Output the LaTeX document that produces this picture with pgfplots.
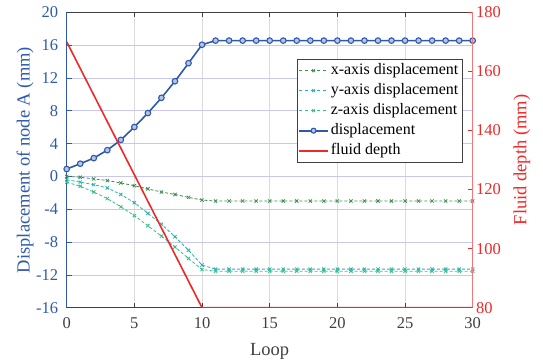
\documentclass[border=0pt]{standalone}
\usepackage{pgfplots}
\pgfplotsset{compat=1.18}
\usepackage{pgfplotstable}
\usepackage{fontspec}
\setmainfont{Liberation Serif}

\definecolor{dispblue}{HTML}{2E59AD}
\definecolor{depthred}{HTML}{F02828}
\definecolor{spinered}{HTML}{F07878}
\definecolor{xgreen}{HTML}{3D8F50}
\definecolor{ycyan}{HTML}{2BB0B3}
\definecolor{zgreen}{HTML}{36C08A}
\definecolor{hgrid}{HTML}{C8C8EC}
\definecolor{vgrid}{HTML}{DCDCDC}
\definecolor{darkgraytext}{HTML}{404040}

% loop, x-, y-, z-displacement and total displacement of node A (mm)
\pgfplotstableread{
loop  dx     dy     dz     d
0     0.00  -0.40  -0.70   0.90
1    -0.10  -0.70  -1.20   1.55
2    -0.30  -1.00  -1.90   2.23
3    -0.50  -1.40  -2.70   3.20
4    -0.80  -2.20  -3.70   4.45
5    -1.13  -3.20  -4.78   6.02
6    -1.52  -4.50  -6.00   7.72
7    -1.90  -5.83  -7.28   9.58
8    -2.20  -7.35  -8.60  11.60
9    -2.55  -9.00 -10.00  13.80
10   -2.88 -10.80 -11.35  16.05
11   -3.00 -11.30 -11.55  16.55
12   -3.00 -11.30 -11.55  16.55
13   -3.00 -11.30 -11.55  16.55
14   -3.00 -11.30 -11.55  16.55
15   -3.00 -11.30 -11.55  16.55
16   -3.00 -11.30 -11.55  16.55
17   -3.00 -11.30 -11.55  16.55
18   -3.00 -11.30 -11.55  16.55
19   -3.00 -11.30 -11.55  16.55
20   -3.00 -11.30 -11.55  16.55
21   -3.00 -11.30 -11.55  16.55
22   -3.00 -11.30 -11.55  16.55
23   -3.00 -11.30 -11.55  16.55
24   -3.00 -11.30 -11.55  16.55
25   -3.00 -11.30 -11.55  16.55
26   -3.00 -11.30 -11.55  16.55
27   -3.00 -11.30 -11.55  16.55
28   -3.00 -11.30 -11.55  16.55
29   -3.00 -11.30 -11.55  16.55
30   -3.00 -11.30 -11.55  16.55
}\disptable

% fluid depth (mm)
\pgfplotstableread{
loop  depth
0     170
10     80
30     80
}\depthtable

\begin{document}
\begin{tikzpicture}
\useasboundingbox (-66.7pt,-54.3pt) rectangle (476.3pt,307.7pt);

\pgfplotsset{
  common/.style={
    scale only axis,
    width=406pt, height=295.4pt,
    at={(0,0)}, anchor=south west,
    xmin=0, xmax=30,
    xtick={0,5,...,30},
    tick align=inside,
    /pgf/number format/assume math mode=true,
    ticklabel style={font=\fontsize{16.5}{18}\selectfont},
    label style={font=\fontsize{18.5}{21}\selectfont},
    major tick length=5pt,
  },
  xdispstyle/.style={xgreen, dashed, line width=0.8pt, mark=x, mark size=2.3pt, mark options={solid}},
  ydispstyle/.style={ycyan, dashed, line width=0.8pt, mark=x, mark size=2.3pt, mark options={solid}},
  zdispstyle/.style={zgreen, dashed, line width=0.8pt, mark=x, mark size=2.3pt, mark options={solid}},
  totdispstyle/.style={dispblue, line width=1.6pt, mark=*, mark size=2.8pt,
    mark options={solid, fill=dispblue!35!white, line width=1.1pt}},
  depthstyle/.style={color=depthred, solid, line width=1.6pt, mark=none},
}

\begin{axis}[
  common,
  separate axis lines,
  x axis line style={darkgraytext, line width=0.8pt},
  y axis line style={dispblue, line width=0.8pt},
  ymin=-16, ymax=20,
  ytick={-16,-12,...,20},
  ytick pos=left,
  xmajorgrids, ymajorgrids,
  x grid style={vgrid, line width=0.7pt},
  y grid style={hgrid, line width=0.7pt},
  xtick style={darkgraytext, line width=0.7pt},
  ytick style={dispblue, line width=0.7pt},
  xticklabel style={text=darkgraytext, yshift=-6pt},
  yticklabel style={text=dispblue, xshift=-5pt},
  xlabel={Loop},
  xlabel style={text=darkgraytext, at={(axis description cs:0.5,0)}, anchor=center, yshift=-44pt},
  ylabel={Displacement of node A (mm)},
  ylabel style={text=dispblue, at={(axis description cs:0,0.5)}, anchor=center, yshift=41.5pt},
]
\addplot[xdispstyle, densely dashed] table[x=loop, y=dx] {\disptable};
\addplot[ydispstyle, densely dashed] table[x=loop, y=dy] {\disptable};
\addplot[zdispstyle, densely dashed] table[x=loop, y=dz] {\disptable};
\addplot[totdispstyle] table[x=loop, y=d] {\disptable};
\end{axis}

\begin{axis}[
  common,
  axis x line=none,
  axis y line*=right,
  y axis line style={spinered, line width=0.8pt},
  ymin=80, ymax=180,
  ytick={80,100,...,180},
  ytick style={depthred, line width=0.7pt},
  yticklabel style={text=depthred},
  ylabel={Fluid depth (mm)},
  ylabel style={text=depthred, at={(axis description cs:1,0.5)}, anchor=center, yshift=-49.3pt},
  legend image code/.code={%
    \draw[mark repeat=2, mark phase=2, #1]
      plot coordinates {(0cm,0cm) (0.5cm,0cm) (1cm,0cm)};},
  legend style={
    at={(rel axis cs:0.9737,0.842)}, anchor=north east,
    draw=darkgraytext, fill=white,
    font=\fontsize{16}{18.5}\selectfont,
    inner sep=1.5pt,
    nodes={text height=12pt, text depth=4pt},
    cells={anchor=west},
  },
]
\addlegendimage{xdispstyle, mark size=2pt}
\addlegendentry{x-axis displacement}
\addlegendimage{ydispstyle, mark size=2pt}
\addlegendentry{y-axis displacement}
\addlegendimage{zdispstyle, mark size=2pt}
\addlegendentry{z-axis displacement}
\addlegendimage{totdispstyle, line width=2pt, mark size=2.5pt}
\addlegendentry{displacement}
\addlegendimage{depthstyle, line width=2pt}
\addlegendentry{fluid depth}
\addplot[depthstyle, forget plot] table[x=loop, y=depth] {\depthtable};
\end{axis}
\end{tikzpicture}
\end{document}
